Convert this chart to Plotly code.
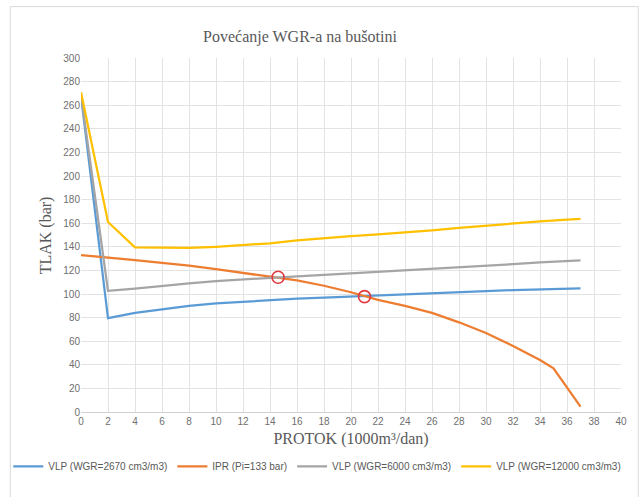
import plotly.graph_objects as go

# Flow rate (1000 m3/day) sample points
protok = [0, 2, 4, 6, 8, 10, 12, 14, 16, 18, 20, 22, 24, 26, 28, 30, 32, 34, 36, 37]

# VLP curves for three water-gas ratios (bar)
vlp_2670 = [268, 79.5, 84, 87, 90, 92, 93.5, 95, 96, 97, 98, 99, 100, 101, 102,
            102.5, 103.3, 104, 104.5, 104.7]
vlp_6000 = [269, 102.7, 104.5, 107, 109, 111, 112.5, 113.8, 115, 116.3, 117.5,
            118.7, 120, 121.2, 122.5, 124, 125.3, 126.7, 128, 128.5]
vlp_12000 = [271, 161, 139.5, 139, 139, 140, 141.5, 143, 145.5, 147.5, 149,
             150.5, 152, 154, 156, 158, 160, 161.5, 163, 163.6]

# IPR curve (Pi = 133 bar)
ipr_q = [0, 2, 4, 6, 8, 10, 12, 14, 16, 18, 20, 22, 24, 26, 28, 30, 32, 34, 35, 37]
ipr_p = [133, 131, 128.7, 126.3, 124, 121, 118, 115, 111.5, 107, 101.5, 95, 90,
         84, 76, 67, 56, 44, 37, 4.5]

# Operating points (IPR / VLP intersections)
op_q = [14.6, 21.0]
op_p = [114.2, 97.8]

x_ticks = list(range(0, 41, 2))
y_ticks = list(range(0, 301, 20))

BLUE, ORANGE, GREY, YELLOW = "#5b9bd5", "#ed7d31", "#a5a5a5", "#ffc000"

# plot-area geometry in pixels
W, H = 644, 497
L, R, T, B = 80.7, 620.7, 58.3, 411.7


def px_x(px):
    return (px - L) / (R - L)


def px_y(py):
    return (B - py) / (B - T)


fig = go.Figure()
fig.add_trace(go.Scatter(x=protok, y=vlp_2670, mode="lines", name="VLP (WGR=2670 cm3/m3)",
                         line=dict(color=BLUE, width=2.25)))
fig.add_trace(go.Scatter(x=ipr_q, y=ipr_p, mode="lines", name="IPR (Pi=133 bar)",
                         line=dict(color=ORANGE, width=2.25)))
fig.add_trace(go.Scatter(x=protok, y=vlp_6000, mode="lines", name="VLP (WGR=6000 cm3/m3)",
                         line=dict(color=GREY, width=2.25)))
fig.add_trace(go.Scatter(x=protok, y=vlp_12000, mode="lines", name="VLP (WGR=12000 cm3/m3)",
                         line=dict(color=YELLOW, width=2.25)))
fig.add_trace(go.Scatter(x=op_q, y=op_p, mode="markers", showlegend=False,
                         marker=dict(symbol="circle-open", size=12,
                                     color="#e0393e", line=dict(width=1.6))))

grid = "#e3e3e3"
tick_font = dict(family="Liberation Sans, Arial, sans-serif", size=10, color="#6f6f6f")
serif = "Liberation Serif, Times New Roman, serif"

fig.update_xaxes(range=[0, 40], tickvals=x_ticks, showgrid=True, gridcolor=grid,
                 gridwidth=1, zeroline=False, showline=True, linecolor="#d0d0d0",
                 tickfont=tick_font, ticks="", fixedrange=True,
                 title=dict(text="PROTOK (1000m³/dan)", standoff=6,
                            font=dict(family=serif, size=16, color="#595959")))
fig.update_yaxes(range=[0, 300], tickvals=y_ticks, showgrid=True, gridcolor=grid,
                 gridwidth=1, zeroline=False, showline=False,
                 tickfont=tick_font, ticks="", fixedrange=True)

fig.add_annotation(text="TLAK (bar)", textangle=-90, x=px_x(35), y=px_y(235),
                   xref="paper", yref="paper", showarrow=False,
                   font=dict(family=serif, size=16, color="#595959"))

# outer chart frame
fig.add_shape(type="rect", xref="paper", yref="paper",
              x0=px_x(10), x1=px_x(638), y0=px_y(505), y1=px_y(7),
              line=dict(color="#d9d9d9", width=1), fillcolor="rgba(0,0,0,0)", layer="below")

fig.update_layout(
    width=W, height=H,
    margin=dict(l=L, r=W - R, t=T, b=H - B, autoexpand=False),
    paper_bgcolor="white", plot_bgcolor="white",
    title=dict(text="Povećanje WGR-a na bušotini", x=300 / W, xanchor="center",
               y=1 - 36 / H, yanchor="middle",
               font=dict(family=serif, size=16, color="#595959")),
    legend=dict(orientation="h", x=px_x(8), xanchor="left", y=px_y(466),
                yanchor="middle", font=dict(family="Liberation Sans, Arial, sans-serif",
                                            size=10, color="#595959"),
                itemwidth=30, tracegroupgap=0, bgcolor="rgba(0,0,0,0)"),
    showlegend=True,
)

fig.write_html("out.html")
